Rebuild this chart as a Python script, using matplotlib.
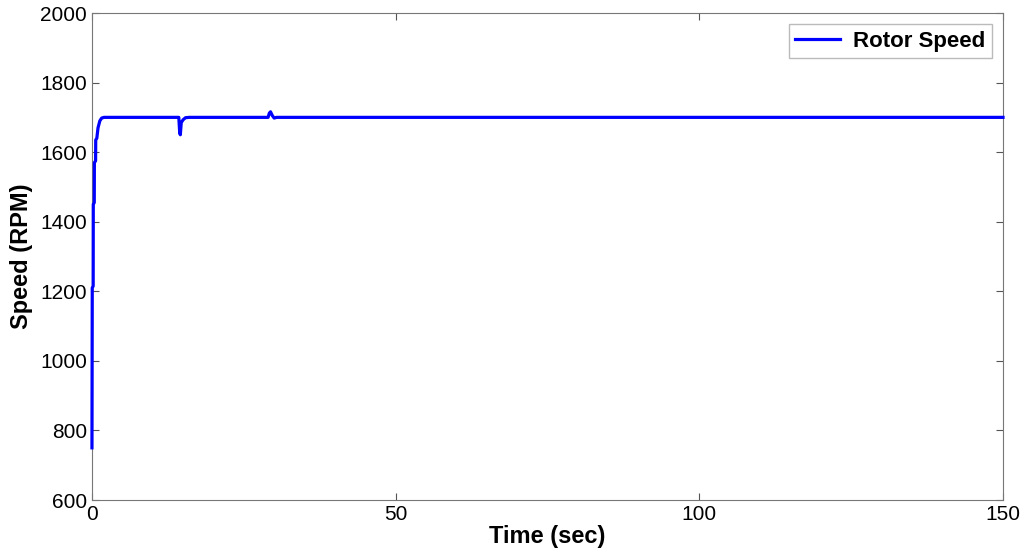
import numpy as np
import matplotlib.pyplot as plt

plt.rcParams['font.family'] = ['Liberation Sans', 'DejaVu Sans']

# rotor speed trace (time in sec, speed in RPM)
time_sec = [0.0, 0.0, 0.05, 0.2, 0.22, 0.38, 0.4, 0.6, 0.62, 0.8, 1.0, 1.3, 1.6, 2.0,
            14.3, 14.45, 14.55, 14.7, 15.0, 15.4, 16.0,
            29.0, 29.2, 29.4, 29.7, 30.0, 30.4, 150.0]
speed_rpm = [750, 750, 1210, 1215, 1450, 1455, 1570, 1575, 1635, 1640, 1670, 1690, 1698, 1700,
             1700, 1655, 1650, 1685, 1693, 1699, 1700,
             1700, 1712, 1716, 1705, 1698, 1700, 1700]

fig = plt.figure(figsize=(10.24, 5.58), dpi=100)
ax = fig.add_axes([0.0898, 0.1039, 0.8897, 0.8728])

ax.plot(time_sec, speed_rpm, color='#0000ff', lw=2.3, label='Rotor Speed',
        zorder=3, clip_on=False)

ax.set_xlim(0, 150)
ax.set_ylim(600, 2000)
ax.set_xticks([0, 50, 100, 150])
ax.set_yticks(np.arange(600, 2001, 200))
ax.tick_params(direction='in', top=True, right=True, labelsize=15, length=5, color='#555555')
for s in ax.spines.values():
    s.set_color('#777777')
    s.set_zorder(2)

ax.set_xlabel('Time (sec)', fontsize=17, fontweight='bold', labelpad=1)
ax.set_ylabel('Speed (RPM)', fontsize=17, fontweight='bold', labelpad=5)

leg = ax.legend(loc='upper right', fancybox=False, handlelength=2.0, handletextpad=0.6,
                borderpad=0.3, borderaxespad=0.5, prop={'weight': 'bold', 'size': 16})
leg.get_frame().set_edgecolor('#aaaaaa')
leg.get_frame().set_linewidth(1.0)

fig.savefig('out.png', dpi=100)
